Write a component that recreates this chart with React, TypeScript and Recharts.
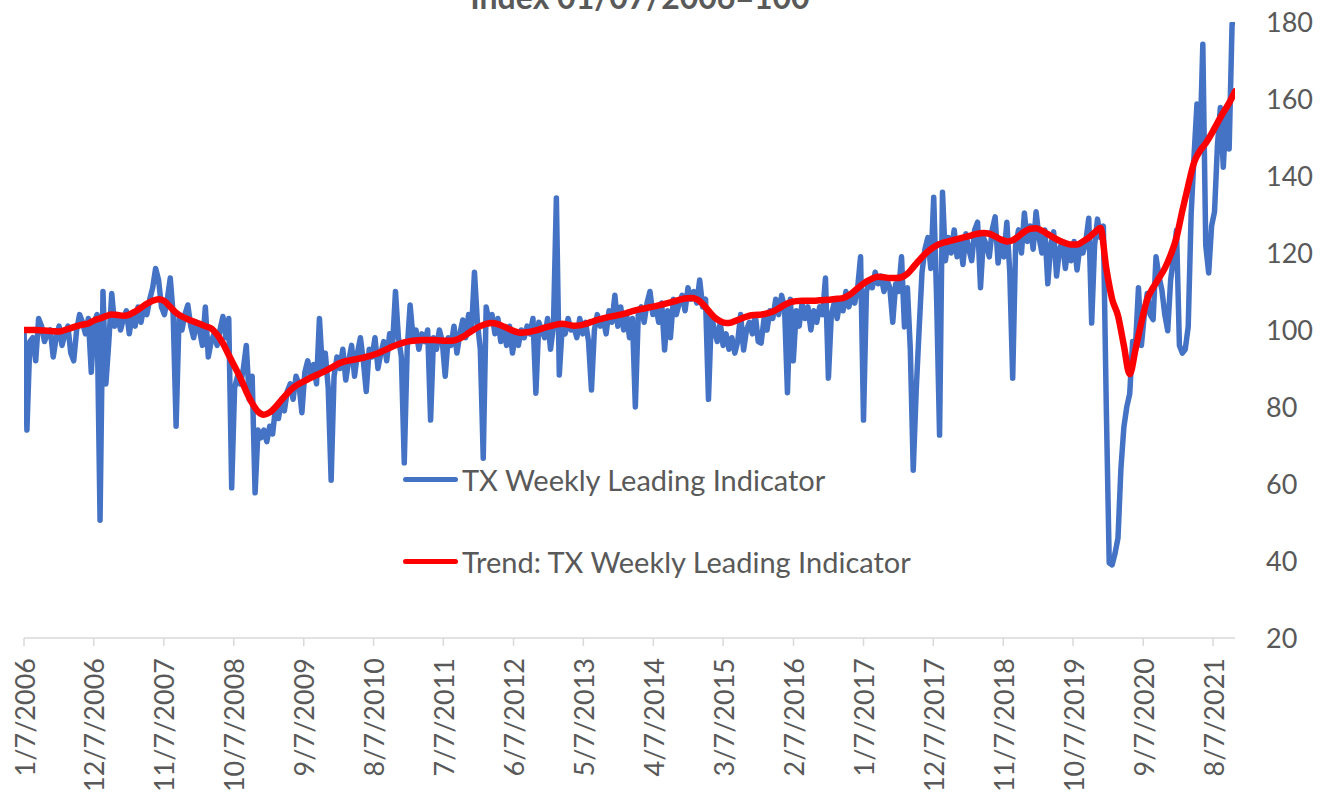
import React from "react";
import { LineChart, Line, XAxis, YAxis, Legend } from "recharts";

const FONT = "Lato, 'Open Sans', sans-serif";
const TEXT = "#595959";
const START = Date.UTC(2006, 0, 7);
const DAY = 86400000;

// TX weekly leading indicator, read every 2 weeks starting 1/7/2006
const tx2006 = [100, 74, 97, 98, 92, 103, 101, 97, 99, 100, 93, 98, 101, 96, 99, 101, 94, 92, 100, 104, 102, 99, 103, 89, 102, 104];
const tx2007 = [50.6, 110, 86, 97, 109.5, 101, 104, 100, 103, 105, 99, 104, 101, 106, 102, 106, 104, 108, 111, 116, 113, 106, 104, 108, 113.5, 104];
const tx2008 = [75, 103, 100, 104, 106.5, 101, 98, 102, 100, 96, 106, 93, 97, 99, 96, 100, 103.5, 98, 103, 59, 85, 88, 86, 90, 96, 82];
const tx2009 = [88, 57.7, 74, 72, 74, 71, 75, 73, 80, 77, 82, 79, 84, 86, 82, 88, 86, 78.5, 89, 92, 88, 91, 86, 103, 90, 94];
const tx2010 = [85, 61, 88, 93, 90, 95, 87, 92, 96, 88, 94, 98, 92, 84, 95, 93, 98, 90, 94, 97, 92, 99, 96, 110, 98, 93];
const tx2011 = [65.5, 95, 106.5, 98, 100, 95, 99, 97, 100, 76.6, 98, 95, 100, 97, 88, 98, 96, 101, 94, 99, 102.6, 98, 104, 100, 115, 102];
const tx2012 = [95, 66.7, 106, 102, 104, 99, 103, 97, 100, 96, 101, 94, 99, 96, 100, 98, 101, 99, 103, 83.6, 102, 100, 98, 103, 95, 101];
const tx2013 = [134.3, 88.3, 101, 99, 103, 100, 101, 98, 103, 99, 102, 97, 84.4, 100, 104, 101, 103, 99, 105, 102, 109, 101, 106, 100, 104, 98];
const tx2014 = [103, 80, 104, 106, 102, 107, 110, 104, 106, 102, 107, 94.8, 105, 98, 108, 104, 107, 109, 105, 111, 108, 110, 107, 113, 106, 108];
const tx2015 = [82, 104, 100, 97, 102, 96, 99, 95, 98, 94, 97, 104, 94.8, 100, 102, 99, 104, 97, 96.6, 103, 100, 105, 103, 108, 104, 109];
const tx2016 = [106, 83.7, 108, 92, 105, 101, 107, 103, 106, 100, 105, 102, 106, 104, 113.5, 87.5, 104, 107, 103, 108, 105, 110, 106, 109, 107, 111];
const tx2017 = [119, 76.6, 110, 113, 111, 115, 112, 114, 110, 113, 111, 102, 112, 110, 119, 100.8, 111, 95, 63.6, 84, 100, 115, 121, 124, 116, 134.5];
const tx2018 = [108, 72.7, 135.8, 118, 124, 120, 126, 119, 123, 117, 125, 121, 118, 126, 128, 111, 124, 122, 119, 126, 129.4, 117.4, 123, 119, 128, 115];
const tx2019 = [87.5, 122, 126, 120, 130.4, 123, 127, 121, 130.7, 124, 120, 126, 112, 122, 125.5, 114, 121, 123, 116, 122, 118, 123, 115.6, 122, 120, 123];
const tx2020 = [129, 101.8, 122, 128.8, 124, 127, 80, 39.5, 39, 42, 46, 64, 74.7, 80, 83.4, 97, 96, 111, 96, 104, 109.5, 104, 102.7, 119, 114, 110.4];
const tx2021 = [104, 99.8, 113, 119, 125.9, 96, 94, 95, 100.8, 130, 145.2, 158.7, 147, 174.2, 122, 114.8, 127, 130.7, 148, 157.8, 142.3, 156.8, 147, 179.5, 180];

// Trend line, read every 4 weeks starting 1/7/2006
const trend2006_09 = [
  100, 100, 100, 99.9, 99.8, 99.7, 99.6, 100, 100.5, 101, 101.4, 101.7, 102.5,
  103, 103.6, 104, 103.9, 103.7, 104, 104.8, 105.8, 106.8, 107.6, 108, 107.5, 106,
  104.5, 103.5, 102.8, 102.2, 101.6, 101, 100.4, 98.8, 96.5, 93.5, 90.5, 87.5, 84,
  81, 78.8, 78, 78.6, 80, 81.8, 83.5, 85, 86, 86.8, 87.6, 88.3, 89,
];
const trend2010_13 = [
  89.8, 90.6, 91.4, 91.9, 92.2, 92.5, 92.8, 93.2, 93.7, 94.3, 95, 95.7, 96.3,
  96.8, 97.1, 97.3, 97.4, 97.4, 97.4, 97.3, 97.2, 97.2, 97.5, 98.2, 99.2, 100.2,
  101, 101.6, 101.8, 101.5, 100.9, 100.2, 99.6, 99.3, 99.4, 99.7, 100.1, 100.6, 101,
  101.4, 101.6, 101.4, 101.1, 101.2, 101.6, 102.1, 102.6, 103, 103.4, 103.7, 104, 104.4,
];
const trend2014_17 = [
  104.9, 105.3, 105.6, 105.9, 106.2, 106.6, 107, 107.4, 107.8, 108.2, 108.3, 108, 106.8,
  105, 103.3, 102.3, 101.8, 102, 102.6, 103.2, 103.7, 103.9, 104, 104.3, 104.8, 105.6,
  106.5, 107.2, 107.5, 107.6, 107.6, 107.6, 107.7, 107.8, 107.9, 108.1, 108.3, 109, 110.2,
  111.5, 112.6, 113.4, 113.8, 113.7, 113.5, 113.5, 113.7, 114.6, 116.3, 118.1, 119.7, 121,
];
const trend2018_21 = [
  122, 122.6, 123, 123.4, 123.8, 124.2, 124.6, 125, 125.2, 125, 124.3, 123.5, 123,
  123.3, 124.3, 125.5, 126.3, 126.4, 125.8, 124.9, 124, 123.2, 122.6, 122.2, 122.2, 123,
  124, 125.3, 126.5, 116, 108, 103.7, 96, 88.5, 95, 102, 108, 111, 113.5,
  116, 119.5, 124, 131, 137.5, 143.5, 146.5, 148.5, 151, 153.8, 156.5, 159, 162,
];

const tickLabels = [
  "1/7/2006", "12/7/2006", "11/7/2007", "10/7/2008", "9/7/2009", "8/7/2010",
  "7/7/2011", "6/7/2012", "5/7/2013", "4/7/2014", "3/7/2015", "2/7/2016",
  "1/7/2017", "12/7/2017", "11/7/2018", "10/7/2019", "9/7/2020", "8/7/2021",
];
const yTicks = [20, 40, 60, 80, 100, 120, 140, 160, 180];

const toDay = (s: string) => {
  const [m, d, y] = s.split("/").map(Number);
  return Math.round((Date.UTC(y, m - 1, d) - START) / DAY);
};
const tickDays = tickLabels.map(toDay);

const txValues = [
  ...tx2006, ...tx2007, ...tx2008, ...tx2009, ...tx2010, ...tx2011, ...tx2012, ...tx2013,
  ...tx2014, ...tx2015, ...tx2016, ...tx2017, ...tx2018, ...tx2019, ...tx2020, ...tx2021,
];
const trendValues = [...trend2006_09, ...trend2010_13, ...trend2014_17, ...trend2018_21];

const txData = txValues.map((v, i) => ({ day: i * 14, tx: v }));
const trendData = trendValues.map((v, i) => ({ day: i * 28, trend: v }));
const lastDay = (txValues.length - 1) * 14;

const legendItems = [
  { label: "TX Weekly Leading Indicator", color: "#4472C4" },
  { label: "Trend: TX Weekly Leading Indicator", color: "#FF0000" },
];

function DateTick({ x, y, payload }: any) {
  const idx = tickDays.indexOf(payload.value);
  return (
    <text
      x={x}
      y={y}
      transform={`rotate(-90 ${x} ${y})`}
      textAnchor="end"
      dominantBaseline="central"
      fill={TEXT}
      fontSize={27}
      fontFamily={FONT}
    >
      {idx >= 0 ? tickLabels[idx] : ""}
    </text>
  );
}

function renderLegend() {
  return (
    <div style={{ fontFamily: FONT, fontSize: 29, color: TEXT }}>
      {legendItems.map((it) => (
        <div key={it.label} style={{ display: "flex", alignItems: "center", height: 82 }}>
          <div style={{ width: 55, height: 5, borderRadius: 3, background: it.color, marginRight: 4 }} />
          <span style={{ whiteSpace: "nowrap" }}>{it.label}</span>
        </div>
      ))}
    </div>
  );
}

export default function App() {
  return (
    <div style={{ position: "absolute", left: 0, top: 0, width: 1335, height: 798, background: "#fff" }}>
      <LineChart width={1335} height={798} margin={{ top: 22, right: 0, bottom: 0, left: 24 }}>
        <XAxis
          dataKey="day"
          type="number"
          domain={[0, lastDay]}
          ticks={tickDays}
          interval={0}
          height={160}
          tickSize={8}
          tickMargin={12}
          stroke="#D9D9D9"
          strokeWidth={1.5}
          tick={<DateTick />}
          allowDataOverflow
        />
        <YAxis
          orientation="right"
          domain={[20, 180]}
          ticks={yTicks}
          width={100}
          tickSize={0}
          tickMargin={31}
          axisLine={false}
          tickLine={false}
          tick={{ fill: TEXT, fontSize: 27, fontFamily: FONT }}
          allowDataOverflow
        />
        <Legend
          layout="vertical"
          align="center"
          verticalAlign="middle"
          wrapperStyle={{ left: 403, top: 438, width: 620 }}
          content={renderLegend}
        />
        <Line
          data={txData}
          dataKey="tx"
          type="linear"
          stroke="#4472C4"
          strokeWidth={5.5}
          strokeLinejoin="round"
          strokeLinecap="round"
          dot={false}
          isAnimationActive={false}
        />
        <Line
          data={trendData}
          dataKey="trend"
          type="monotone"
          stroke="#FF0000"
          strokeWidth={6.5}
          strokeLinecap="round"
          dot={false}
          isAnimationActive={false}
        />
      </LineChart>
      <svg width={1335} height={40} style={{ position: "absolute", left: 0, top: 0, pointerEvents: "none" }}>
        <text x={640} y={9} textAnchor="middle" fontFamily={FONT} fontWeight="bold" fontSize={32} fill={TEXT}>
          Index 01/07/2006=100
        </text>
      </svg>
    </div>
  );
}
